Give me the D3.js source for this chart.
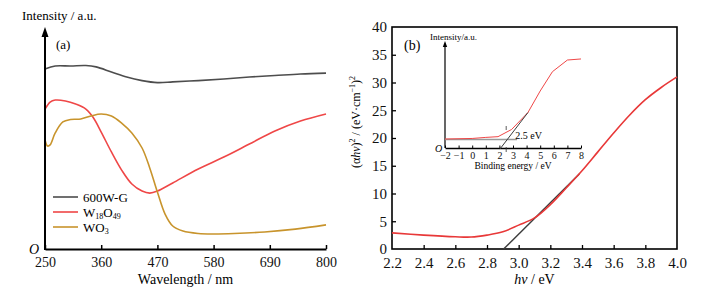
<!DOCTYPE html>
<html>
<head>
<meta charset="utf-8">
<script src="https://cdn.jsdelivr.net/npm/d3@7"></script>
<style>
  body { margin: 0; background: #fff; }
</style>
</head>
<body>
<svg id="chart" width="702" height="296"></svg>
<script>
// panel (a): absorption spectra
const wavelengthTicks = [250, 360, 470, 580, 690, 800];
const grayNm  = [250, 270, 300, 330, 350, 380, 410, 440, 470, 500, 550, 600, 650, 700, 750, 800];
const grayVal = [81.4, 82.8, 82.8, 83.0, 82.4, 80.1, 77.8, 76.2, 75.3, 75.6, 76.2, 76.9, 77.8, 78.5, 79.2, 79.6];
const redNm   = [250, 260, 270, 290, 310, 330, 345, 360, 380, 400, 420, 440, 455, 470, 500, 550, 600, 650, 700, 750, 800];
const redVal  = [63.3, 66.5, 67.4, 67.0, 65.6, 63.3, 59.3, 52.9, 43.9, 35.7, 29.4, 26.2, 25.3, 26.2, 29.9, 36.2, 41.6, 47.5, 53.4, 57.9, 61.1];
const goldNm  = [250, 255, 260, 270, 285, 300, 320, 340, 360, 380, 400, 420, 440, 455, 470, 485, 500, 520, 550, 580, 620, 680, 740, 800];
const goldVal = [49.3, 46.6, 47.1, 52.5, 57.5, 58.6, 58.8, 60.2, 61.1, 60.2, 57.0, 52.5, 45.7, 36.7, 25.8, 15.8, 10.4, 8.1, 7.0, 6.8, 7.0, 7.7, 9.0, 10.9];

// panel (b): Tauc plot
const hvTicks = [2.2, 2.4, 2.6, 2.8, 3.0, 3.2, 3.4, 3.6, 3.8, 4.0];
const taucTicks = [0, 5, 10, 15, 20, 25, 30, 35, 40];
const taucHv  = [2.2, 2.4, 2.6, 2.7, 2.8, 2.9, 3.0, 3.1, 3.2, 3.3, 3.4, 3.5, 3.6, 3.7, 3.8, 3.9, 4.0];
const taucVal = [2.9, 2.5, 2.2, 2.15, 2.5, 3.1, 4.3, 5.6, 8.0, 11.0, 14.1, 17.5, 20.9, 24.1, 26.9, 29.1, 31.0];
const tangentHv  = [2.905, 3.383];
const tangentVal = [0, 13.5];

// inset: binding energy
const insetTicks = [-2, -1, 0, 1, 2, 3, 4, 5, 6, 7, 8];
const insetE   = [-2, 0, 1, 1.9, 2.9, 4.1, 5.0, 5.9, 7.0, 8.0];
const insetVal = [0.085, 0.09, 0.10, 0.107, 0.175, 0.335, 0.538, 0.72, 0.83, 0.84];
const insetTanE   = [2.04, 4.1];
const insetTanVal = [-0.01, 0.335];
const insetBaseE   = [-2, 3.3];
const insetBaseVal = [0.08, 0.08];
const gapEnergy = 2.5;

const serif = "'Liberation Serif', Tinos, 'Times New Roman', 'DejaVu Serif', serif";
const svg = d3.select("#chart").attr("font-family", serif).style("font-family", serif);
const colors = { gray: "#4d4d4d", red: "#ef4747", gold: "#c8942c", red2: "#e83838", dark: "#3c3c3c" };

/* ---------- panel (a) ---------- */
const xa = d3.scaleLinear().domain([250, 800]).range([45, 326]);
const ya = d3.scaleLinear().domain([0, 100]).range([249, 28]);
const ga = svg.append("g");

const lineA = d3.line().x(d => xa(d[0])).y(d => ya(d[1])).curve(d3.curveCatmullRom.alpha(0.5));
[[grayNm, grayVal, colors.gray], [redNm, redVal, colors.red], [goldNm, goldVal, colors.gold]].forEach(([xs, vs, c]) => {
  ga.append("path")
    .datum(xs.map((x, i) => [x, vs[i]]))
    .attr("d", lineA)
    .attr("fill", "none")
    .attr("stroke", c)
    .attr("stroke-width", 1.6);
});

// x axis with ticks pointing up
const axA = ga.append("g").attr("transform", `translate(0,${ya(0)})`)
  .call(d3.axisBottom(xa).tickValues(wavelengthTicks).tickSizeInner(-4).tickSizeOuter(0).tickPadding(8));
axA.attr("font-family", serif);
axA.select(".domain").attr("stroke-width", 2);
axA.selectAll(".tick line").attr("stroke-width", 1.5);
axA.selectAll(".tick text").attr("font-size", 14).attr("fill", "#111");

// y axis with arrow
ga.append("line").attr("x1", xa(250)).attr("x2", xa(250)).attr("y1", ya(0) + 1).attr("y2", 34)
  .attr("stroke", "#000").attr("stroke-width", 2);
ga.append("path").attr("d", `M${xa(250)},27 L${xa(250) - 3.5},37 L${xa(250) + 3.5},37 Z`).attr("fill", "#000");

ga.append("text").attr("x", 22).attr("y", 20).attr("font-size", 13).text("Intensity / a.u.");
ga.append("text").attr("x", 56).attr("y", 49).attr("font-size", 13).text("(a)");
ga.append("text").attr("x", 29).attr("y", 254).attr("font-size", 14).attr("font-style", "italic").text("O");
ga.append("text").attr("x", (xa(250) + xa(800)) / 2).attr("y", 284).attr("text-anchor", "middle")
  .attr("font-size", 14).text("Wavelength / nm");

// legend
const legend = [
  { label: ["600W-G"], color: colors.gray },
  { label: ["W", "18", "O", "49"], color: colors.red },
  { label: ["WO", "3"], color: colors.gold }
];
legend.forEach((d, i) => {
  const y = 197 + i * 15;
  ga.append("line").attr("x1", 53).attr("x2", 78).attr("y1", y).attr("y2", y)
    .attr("stroke", d.color).attr("stroke-width", 1.6);
  const t = ga.append("text").attr("x", 83).attr("y", y + 4.5).attr("font-size", 13);
  d.label.forEach((s, j) => {
    const sub = j % 2 === 1;
    t.append("tspan").attr("font-size", sub ? 8 : 13).attr("dy", sub ? 2.5 : (j > 0 ? -2.5 : 0)).text(s);
  });
});

/* ---------- panel (b) ---------- */
const xb = d3.scaleLinear().domain([2.2, 4.0]).range([392, 677]);
const yb = d3.scaleLinear().domain([0, 40]).range([249, 27]);
const gb = svg.append("g");

gb.append("rect").attr("x", xb(2.2)).attr("y", yb(40)).attr("width", xb(4.0) - xb(2.2)).attr("height", yb(0) - yb(40))
  .attr("fill", "none").attr("stroke", "#000").attr("stroke-width", 1.6);

const axBx = gb.append("g").attr("transform", `translate(0,${yb(0)})`)
  .call(d3.axisBottom(xb).tickValues(hvTicks).tickFormat(d3.format(".1f")).tickSizeInner(-4).tickSizeOuter(0).tickPadding(8));
const axBy = gb.append("g").attr("transform", `translate(${xb(2.2)},0)`)
  .call(d3.axisLeft(yb).tickValues(taucTicks).tickSizeInner(-4).tickSizeOuter(0).tickPadding(5));
[axBx, axBy].forEach(a => {
  a.attr("font-family", serif);
  a.select(".domain").remove();
  a.selectAll(".tick line").attr("stroke-width", 1.3);
  a.selectAll(".tick text").attr("font-size", 15).attr("fill", "#111");
});
axBx.selectAll(".tick").filter(d => d === 2.2 || d === 4.0).select("line").remove();
axBy.selectAll(".tick").filter(d => d === 0 || d === 40).select("line").remove();

const lineB = d3.line().x(d => xb(d[0])).y(d => yb(d[1])).curve(d3.curveCatmullRom.alpha(0.5));
gb.append("path").datum(tangentHv.map((x, i) => [x, tangentVal[i]]))
  .attr("d", d3.line().x(d => xb(d[0])).y(d => yb(d[1])))
  .attr("stroke", colors.dark).attr("stroke-width", 1.4).attr("fill", "none");
gb.append("path").datum(taucHv.map((x, i) => [x, taucVal[i]]))
  .attr("d", lineB).attr("fill", "none").attr("stroke", colors.red2).attr("stroke-width", 1.6);

gb.append("text").attr("x", 404).attr("y", 50).attr("font-size", 14).text("(b)");
const hvLabel = gb.append("text").attr("x", (xb(2.2) + xb(4.0)) / 2).attr("y", 284).attr("text-anchor", "middle").attr("font-size", 14);
hvLabel.append("tspan").attr("font-style", "italic").text("hν");
hvLabel.append("tspan").text(" / eV");

const yLab = gb.append("text").attr("transform", "translate(360,122) rotate(-90)").attr("text-anchor", "middle").attr("font-size", 12);
yLab.append("tspan").text("(α");
yLab.append("tspan").attr("font-style", "italic").text("hν");
yLab.append("tspan").text(")");
yLab.append("tspan").attr("font-size", 8).attr("dy", -5).text("2");
yLab.append("tspan").attr("dy", 5).text(" / (eV·cm");
yLab.append("tspan").attr("font-size", 8).attr("dy", -5).text("−1");
yLab.append("tspan").attr("dy", 5).text(")");
yLab.append("tspan").attr("font-size", 8).attr("dy", -5).text("2");

/* ---------- inset ---------- */
const xi = d3.scaleLinear().domain([-2, 8]).range([445, 581]);
const yi = d3.scaleLinear().domain([0, 1]).range([148, 42]);
const gi = svg.append("g");

const axI = gi.append("g").attr("transform", `translate(0,${yi(0)})`)
  .call(d3.axisBottom(xi).tickValues(insetTicks).tickFormat(d => d < 0 ? "−" + Math.abs(d) : d)
    .tickSizeInner(-2.5).tickSizeOuter(0).tickPadding(4));
axI.attr("font-family", serif);
axI.select(".domain").attr("stroke-width", 1.3);
axI.selectAll(".tick text").attr("font-size", 10).attr("fill", "#111");

gi.append("line").attr("x1", xi(-2)).attr("x2", xi(-2)).attr("y1", yi(0)).attr("y2", 46)
  .attr("stroke", "#000").attr("stroke-width", 1.2);
gi.append("path").attr("d", `M${xi(-2)},41 L${xi(-2) - 2.2},47 L${xi(-2) + 2.2},47 Z`).attr("fill", "#000");

const lineI = d3.line().x(d => xi(d[0])).y(d => yi(d[1]));
gi.append("path").datum(insetBaseE.map((x, i) => [x, insetBaseVal[i]]))
  .attr("d", lineI).attr("stroke", "#999").attr("stroke-width", 1.6).attr("fill", "none");
gi.append("path").datum(insetE.map((x, i) => [x, insetVal[i]]))
  .attr("d", lineI).attr("stroke", colors.red).attr("stroke-width", 1).attr("fill", "none");
gi.append("path").datum(insetTanE.map((x, i) => [x, insetTanVal[i]]))
  .attr("d", lineI).attr("stroke", colors.dark).attr("stroke-width", 1).attr("fill", "none");
gi.append("line").attr("x1", xi(gapEnergy)).attr("x2", xi(gapEnergy)).attr("y1", 126).attr("y2", 152)
  .attr("stroke", "#333").attr("stroke-width", 0.8).attr("stroke-dasharray", "4,17,5");

gi.append("text").attr("x", xi(gapEnergy) + 9).attr("y", 138.5).attr("font-size", 10).text("2.5 eV");
gi.append("text").attr("x", 430).attr("y", 40).attr("font-size", 9).text("Intensity/a.u.");
gi.append("text").attr("x", 435).attr("y", 152).attr("font-size", 10).attr("font-style", "italic").text("O");
gi.append("text").attr("x", (xi(-2) + xi(8)) / 2).attr("y", 169).attr("text-anchor", "middle")
  .attr("font-size", 9.5).text("Binding energy / eV");
</script>
</body>
</html>
